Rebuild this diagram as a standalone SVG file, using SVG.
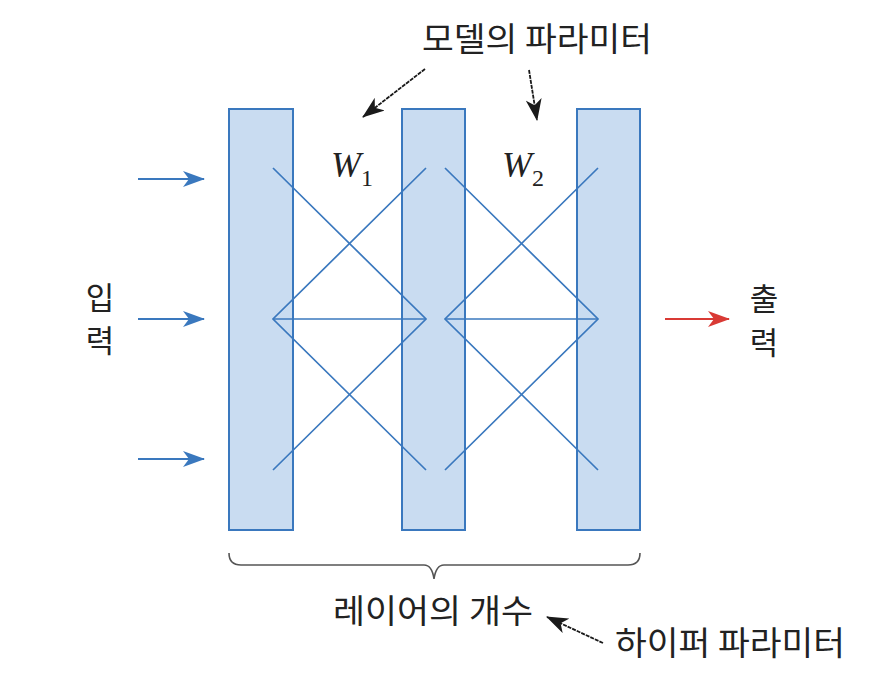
<svg xmlns="http://www.w3.org/2000/svg" width="888" height="682" viewBox="0 0 888 682">
  <style>
    .layer { fill: #c9dcf1; stroke: #3a78be; stroke-width: 2; }
    .w { fill: none; stroke: #3a78be; stroke-width: 1.7; stroke-linejoin: miter; }
    .in { stroke: #3a78be; stroke-width: 2; fill: none; }
    .out { stroke: #d93a35; stroke-width: 2; fill: none; }
    .ann { stroke: #1a1a1a; stroke-width: 1.8; fill: none; stroke-dasharray: 4 1; }
    .ko { font-family: "Noto Sans CJK KR", "Noto Sans", sans-serif; font-size: 33px; fill: #222; }
    .kv { font-family: "Noto Sans CJK KR", "Noto Sans", sans-serif; font-size: 31px; fill: #222; }
    .wl { font-family: "Liberation Serif", serif; font-style: italic; font-size: 36px; fill: #222; }
    .sub { font-family: "Liberation Serif", serif; font-style: normal; font-size: 24px; }
  </style>
  <defs>
    <marker id="ab" viewBox="0 0 22 16" refX="21" refY="8" markerWidth="22" markerHeight="16" markerUnits="userSpaceOnUse" orient="auto">
      <path d="M0,0 L22,8 L0,16 L6,8 Z" fill="#3a78be"/>
    </marker>
    <marker id="ar" viewBox="0 0 22 16" refX="21" refY="8" markerWidth="22" markerHeight="16" markerUnits="userSpaceOnUse" orient="auto">
      <path d="M0,0 L22,8 L0,16 L6,8 Z" fill="#d93a35"/>
    </marker>
    <marker id="ak" viewBox="0 0 22 16" refX="21" refY="8" markerWidth="22" markerHeight="16" markerUnits="userSpaceOnUse" orient="auto">
      <path d="M0,0 L22,8 L0,16 L6,8 Z" fill="#1a1a1a"/>
    </marker>
  </defs>

  <g id="layer1"><rect class="layer" x="229" y="109" width="64" height="421"/></g>
  <g id="layer2"><rect class="layer" x="402" y="109" width="63" height="421"/></g>
  <g id="layer3"><rect class="layer" x="577" y="109" width="63" height="421"/></g>

  <g id="connectors">
    <g id="w1-lines">
      <polyline class="w" points="273,168 426,319 273,470"/>
      <polyline class="w" points="426,168 273,319 426,470"/>
      <line class="w" x1="273" y1="319" x2="426" y2="319"/>
    </g>
    <g id="w2-lines">
      <polyline class="w" points="445,168 598,319 445,470"/>
      <polyline class="w" points="598,168 445,319 598,470"/>
      <line class="w" x1="445" y1="319" x2="598" y2="319"/>
    </g>
    <line class="in" x1="138" y1="179" x2="204" y2="179" marker-end="url(#ab)"/>
    <line class="in" x1="138" y1="319" x2="204" y2="319" marker-end="url(#ab)"/>
    <line class="in" x1="138" y1="459" x2="204" y2="459" marker-end="url(#ab)"/>
    <line class="out" x1="665" y1="319" x2="729" y2="319" marker-end="url(#ar)"/>
    <line class="ann" x1="425" y1="69" x2="363" y2="117" marker-end="url(#ak)"/>
    <line class="ann" x1="529" y1="70" x2="537" y2="120" marker-end="url(#ak)"/>
    <line class="ann" x1="603" y1="643" x2="547" y2="617" marker-end="url(#ak)"/>
    <path id="brace" d="M229,553 Q229,565 241,565 L424,565 Q432,565 434,579 Q436,565 444,565 L628,565 Q640,565 640,553" fill="none" stroke="#555" stroke-width="1.6"/>
  </g>

  <g id="label-input">
    <text class="kv" x="100" y="309" text-anchor="middle">입</text>
    <text class="kv" x="100" y="352" text-anchor="middle">력</text>
  </g>
  <g id="label-output">
    <text class="kv" x="764" y="310" text-anchor="middle">출</text>
    <text class="kv" x="764" y="354" text-anchor="middle">력</text>
  </g>
  <g id="label-model-params"><text class="ko" x="422" y="51" textLength="230" lengthAdjust="spacingAndGlyphs">모델의 파라미터</text></g>
  <g id="label-w1"><text class="wl" x="331" y="177">W<tspan class="sub" dy="9">1</tspan></text></g>
  <g id="label-w2"><text class="wl" x="502" y="177">W<tspan class="sub" dy="9">2</tspan></text></g>
  <g id="label-layers"><text class="ko" x="333" y="623" textLength="200" lengthAdjust="spacingAndGlyphs">레이어의 개수</text></g>
  <g id="label-hyper"><text class="ko" x="615" y="655" textLength="230" lengthAdjust="spacingAndGlyphs">하이퍼 파라미터</text></g>
</svg>
